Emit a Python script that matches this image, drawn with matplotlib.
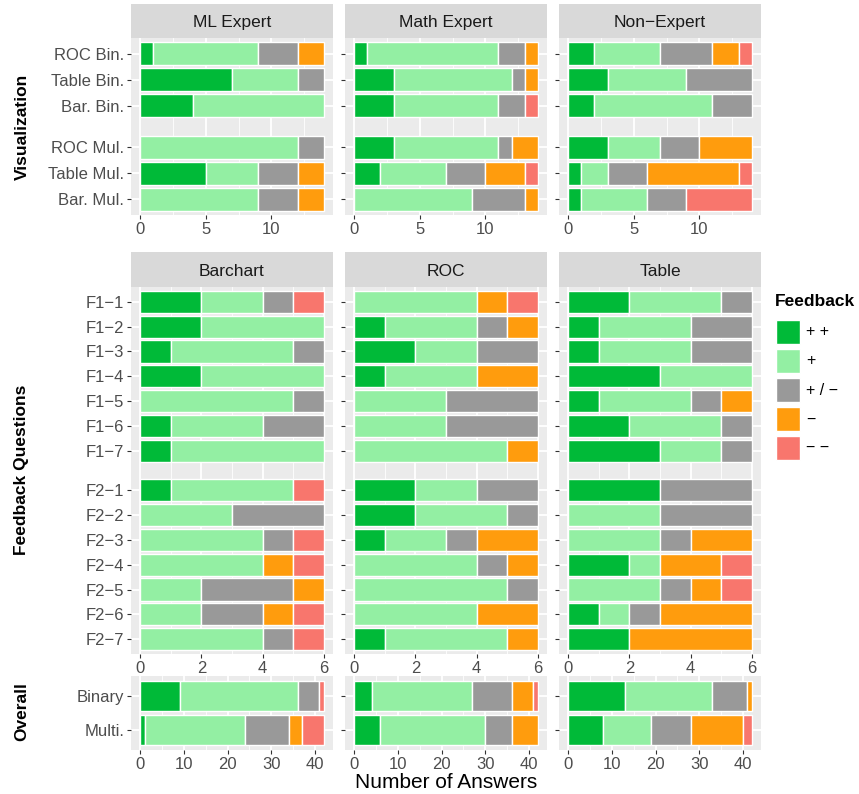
import matplotlib.pyplot as plt
import numpy as np
from matplotlib.patches import Rectangle

# Feedback levels and colours
levels = ["+ +", "+", "+ / \u2212", "\u2212", "\u2212 \u2212"]
colors = ["#00BA38", "#93EFA3", "#999999", "#FF9C0D", "#F8766D"]

# top row: visualisation ratings per expert group
vis_rows = ["ROC Bin.", "Table Bin.", "Bar. Bin.", "", "ROC Mul.", "Table Mul.", "Bar. Mul."]
vis_panels = ["ML Expert", "Math Expert", "Non\u2212Expert"]
ml_expert = [[1, 8, 3, 2, 0], [7, 5, 2, 0, 0], [4, 10, 0, 0, 0], None,
             [0, 12, 2, 0, 0], [5, 4, 3, 2, 0], [0, 9, 3, 2, 0]]
math_expert = [[1, 10, 2, 1, 0], [3, 9, 1, 1, 0], [3, 8, 2, 0, 1], None,
               [3, 8, 1, 2, 0], [2, 5, 3, 3, 1], [0, 9, 4, 1, 0]]
non_expert = [[2, 5, 4, 2, 1], [3, 6, 5, 0, 0], [2, 9, 3, 0, 0], None,
              [3, 4, 3, 4, 0], [1, 2, 3, 7, 1], [1, 5, 3, 0, 5]]

# middle row: feedback questions per visualisation
fq_rows = ["F1\u22121", "F1\u22122", "F1\u22123", "F1\u22124", "F1\u22125", "F1\u22126", "F1\u22127", "",
           "F2\u22121", "F2\u22122", "F2\u22123", "F2\u22124", "F2\u22125", "F2\u22126", "F2\u22127"]
fq_panels = ["Barchart", "ROC", "Table"]
fq_bar = [[2, 2, 1, 0, 1], [2, 4, 0, 0, 0], [1, 4, 1, 0, 0], [2, 4, 0, 0, 0],
          [0, 5, 1, 0, 0], [1, 3, 2, 0, 0], [1, 5, 0, 0, 0], None,
          [1, 4, 0, 0, 1], [0, 3, 3, 0, 0], [0, 4, 1, 0, 1], [0, 4, 0, 1, 1],
          [0, 2, 3, 1, 0], [0, 2, 2, 1, 1], [0, 4, 1, 0, 1]]
fq_roc = [[0, 4, 0, 1, 1], [1, 3, 1, 1, 0], [2, 2, 2, 0, 0], [1, 3, 0, 2, 0],
          [0, 3, 3, 0, 0], [0, 3, 3, 0, 0], [0, 5, 0, 1, 0], None,
          [2, 2, 2, 0, 0], [2, 3, 1, 0, 0], [1, 2, 1, 2, 0], [0, 4, 1, 1, 0],
          [0, 5, 1, 0, 0], [0, 4, 0, 2, 0], [1, 4, 0, 1, 0]]
fq_table = [[2, 3, 1, 0, 0], [1, 3, 2, 0, 0], [1, 3, 2, 0, 0], [3, 3, 0, 0, 0],
            [1, 3, 1, 1, 0], [2, 3, 1, 0, 0], [3, 2, 1, 0, 0], None,
            [3, 0, 3, 0, 0], [0, 3, 3, 0, 0], [0, 3, 1, 2, 0], [2, 1, 0, 2, 1],
            [0, 3, 1, 1, 1], [1, 1, 1, 3, 0], [2, 0, 0, 4, 0]]

# bottom row: overall = sums over expert groups
ov_rows = ["Binary", "Multi."]
def overall(idx_bin, idx_mul):
    groups = [ml_expert, math_expert, non_expert]
    b = np.sum([g[idx_bin] for g in groups], axis=0)
    m = np.sum([g[idx_mul] for g in groups], axis=0)
    return [list(b), list(m)]
ov_bar = overall(2, 6)
ov_roc = overall(0, 4)
ov_table = overall(1, 5)

plt.rcParams['font.family'] = ['Liberation Sans', 'DejaVu Sans']
W, H = 859, 794
fig = plt.figure(figsize=(W / 100, H / 100), dpi=100)

xcols = [(131, 333), (345, 547), (559, 761)]

def box(x0, x1, ytop, ybot):
    return [x0 / W, 1 - ybot / H, (x1 - x0) / W, (ybot - ytop) / H]

def row_positions(rows):
    # blank rows act as a narrower spacer
    pos, y = [], 0.0
    for r in rows:
        y += 0.6 if r == "" else 1.0
        pos.append(y)
    return -np.array(pos)

def draw_panel(ax, rows, data, xmax, ticks, minors, show_labels):
    ax.set_facecolor("#EBEBEB")
    ys = row_positions(rows)
    for t in minors:
        ax.axvline(t, color="white", lw=0.6, zorder=0)
    for t in ticks:
        ax.axvline(t, color="white", lw=1.3, zorder=0)
    for y, vals in zip(ys, data):
        if vals is None:
            continue
        ax.axhline(y, color="white", lw=1.3, zorder=0)
        left = 0
        for v, c in zip(vals, colors):
            if v > 0:
                ax.barh(y, v, left=left, height=0.9, color=c, edgecolor="white", lw=1, zorder=2)
            left += v
    ax.set_xlim(-0.05 * xmax, 1.05 * xmax)
    ax.set_ylim(ys[-1] - 0.6, ys[0] + 0.6)
    ax.set_xticks(ticks)
    ax.set_xticklabels([str(t) for t in ticks], fontsize=12, color="#4D4D4D")
    keep = [(y, r) for y, r in zip(ys, rows) if r]
    ax.set_yticks([k[0] for k in keep])
    if show_labels:
        ax.set_yticklabels([k[1] for k in keep], fontsize=12, color="#4D4D4D")
    else:
        ax.set_yticklabels([])
    ax.tick_params(length=3, color="#333333", pad=2)
    for s in ax.spines.values():
        s.set_visible(False)

def strip(x0, x1, ytop, ybot, title):
    sa = fig.add_axes(box(x0, x1, ytop, ybot))
    sa.set_facecolor("#D9D9D9")
    sa.set_xticks([]); sa.set_yticks([])
    for s in sa.spines.values():
        s.set_visible(False)
    sa.text(0.5, 0.45, title, ha="center", va="center", fontsize=12.5, color="#1A1A1A",
            transform=sa.transAxes)

top_data = [ml_expert, math_expert, non_expert]
mid_data = [fq_bar, fq_roc, fq_table]
bot_data = [ov_bar, ov_roc, ov_table]
for i, (x0, x1) in enumerate(xcols):
    strip(x0, x1, 4, 38, vis_panels[i])
    ax = fig.add_axes(box(x0, x1, 38, 215))
    draw_panel(ax, vis_rows, top_data[i], 14, [0, 5, 10], [2.5, 7.5, 12.5], i == 0)
    strip(x0, x1, 252, 287, fq_panels[i])
    ax = fig.add_axes(box(x0, x1, 287, 654))
    draw_panel(ax, fq_rows, mid_data[i], 6, [0, 2, 4, 6], [1, 3, 5], i == 0)
    ax = fig.add_axes(box(x0, x1, 676, 750))
    draw_panel(ax, ov_rows, bot_data[i], 42, [0, 10, 20, 30, 40], [5, 15, 25, 35], i == 0)

fig.text(22 / W, 1 - 127 / H, "Visualization", rotation=90, ha="center", va="center",
         fontsize=12.5, fontweight="bold")
fig.text(22 / W, 1 - 470 / H, "Feedback Questions", rotation=90, ha="center", va="center",
         fontsize=12.5, fontweight="bold")
fig.text(22 / W, 1 - 712 / H, "Overall", rotation=90, ha="center", va="center",
         fontsize=12.5, fontweight="bold")
fig.text(446 / W, 1 - 783 / H, "Number of Answers", ha="center", va="center", fontsize=15)

# legend
fig.text(775 / W, 1 - 301 / H, "Feedback", fontsize=12.5, fontweight="bold", va="center")
for k, (lab, c) in enumerate(zip(levels, colors)):
    yc = 332 + k * 29
    fig.patches.append(Rectangle((776 / W, 1 - (yc + 12) / H), 24 / W, 24 / H,
                                 transform=fig.transFigure, fc=c, ec="white", lw=1))
    fig.text(806 / W, 1 - yc / H, lab, fontsize=11.5, va="center")

fig.savefig("out.png", dpi=100)
